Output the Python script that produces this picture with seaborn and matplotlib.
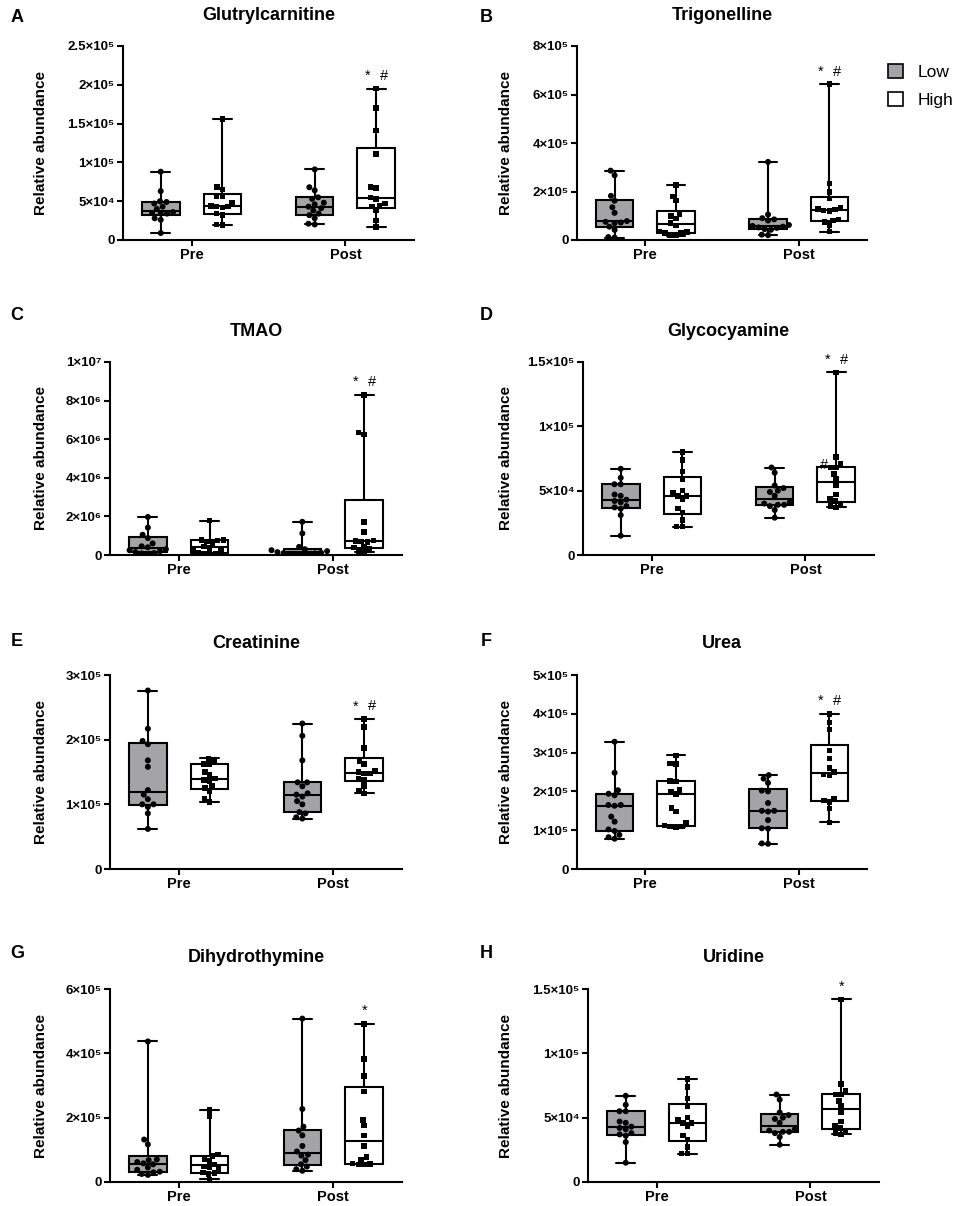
import numpy as np
import pandas as pd
import matplotlib
matplotlib.use("Agg")
import matplotlib.pyplot as plt
import seaborn as sns
from matplotlib.patches import Patch

times = ["Pre", "Post"]
groups = ["Low", "High"]
gray = "#a3a3a8"

# values, order: pre low, pre high, post low, post high
# A  Glutrylcarnitine (x1e3)
glut_pre_low = [9, 26, 28, 34, 34, 35, 36, 40, 43, 47, 49, 50, 63, 88]
glut_pre_high = [19, 20, 32, 34, 42, 43, 43, 44, 48, 56, 57, 65, 68, 156]
glut_post_low = [20, 21, 28, 32, 34, 38, 41, 43, 46, 48, 53, 55, 64, 68, 91]
glut_post_high = [17, 25, 38, 43, 44, 47, 53, 55, 67, 68, 111, 141, 170, 195]

# B  Trigonelline (x1e5)
trig_pre_low = [0.10, 0.12, 0.42, 0.55, 0.70, 0.72, 0.75, 0.78, 1.12, 1.35, 1.62, 1.82, 2.67, 2.86]
trig_pre_high = [0.18, 0.20, 0.28, 0.30, 0.32, 0.35, 0.60, 0.70, 0.88, 1.00, 1.06, 1.62, 1.80, 2.26]
trig_post_low = [0.20, 0.22, 0.42, 0.45, 0.50, 0.52, 0.55, 0.58, 0.62, 0.80, 0.85, 0.90, 1.05, 3.22]
trig_post_high = [0.35, 0.62, 0.75, 0.80, 0.85, 1.20, 1.22, 1.26, 1.28, 1.32, 1.72, 1.97, 2.33, 6.43]

# C  TMAO (x1e6)
tmao_pre_low = [0.05, 0.08, 0.10, 0.15, 0.20, 0.25, 0.30, 0.40, 0.45, 0.60, 0.88, 1.05, 1.42, 1.97]
tmao_pre_high = [0.05, 0.06, 0.08, 0.10, 0.20, 0.25, 0.35, 0.45, 0.60, 0.70, 0.75, 0.78, 0.78, 1.78]
tmao_post_low = [0.02, 0.03, 0.05, 0.06, 0.08, 0.10, 0.12, 0.15, 0.20, 0.25, 0.30, 0.42, 1.12, 1.72]
tmao_post_high = [0.15, 0.20, 0.30, 0.40, 0.45, 0.68, 0.70, 0.72, 0.75, 1.20, 1.72, 6.25, 6.35, 8.30]

# D  Glycocyamine (x1e4)
glyc_pre_low = [1.5, 3.1, 3.6, 3.7, 3.8, 4.1, 4.2, 4.3, 4.6, 4.7, 5.5, 5.5, 6.0, 6.7]
glyc_pre_high = [2.2, 2.2, 2.7, 3.3, 3.6, 4.3, 4.6, 4.6, 4.8, 5.0, 5.9, 6.5, 7.4, 8.0]
glyc_post_low = [2.9, 3.5, 3.8, 3.9, 3.9, 4.0, 4.1, 4.6, 4.9, 5.0, 5.2, 5.4, 6.4, 6.8]
glyc_post_high = [3.7, 3.8, 4.0, 4.2, 4.4, 4.7, 5.4, 5.9, 6.3, 6.8, 6.8, 7.1, 7.6, 14.2]

# E  Creatinine (x1e5)
crea_pre_low = [0.62, 0.86, 0.96, 1.00, 1.00, 1.08, 1.15, 1.22, 1.58, 1.68, 1.93, 1.98, 2.17, 2.76]
crea_pre_high = [1.04, 1.08, 1.20, 1.25, 1.28, 1.36, 1.38, 1.40, 1.45, 1.50, 1.62, 1.62, 1.68, 1.71]
crea_post_low = [0.78, 0.80, 0.86, 0.88, 1.00, 1.05, 1.12, 1.15, 1.17, 1.28, 1.34, 1.34, 1.68, 2.06, 2.25]
crea_post_high = [1.17, 1.21, 1.28, 1.38, 1.40, 1.48, 1.48, 1.50, 1.52, 1.62, 1.67, 1.87, 2.20, 2.32]

# F  Urea (x1e5)
urea_pre_low = [0.78, 0.82, 0.88, 0.98, 1.02, 1.22, 1.35, 1.63, 1.65, 1.65, 1.90, 1.94, 2.03, 2.48, 3.28]
urea_pre_high = [1.08, 1.10, 1.10, 1.12, 1.20, 1.48, 1.57, 1.93, 2.00, 2.04, 2.25, 2.27, 2.70, 2.72, 2.93]
urea_post_low = [0.65, 0.66, 1.04, 1.05, 1.26, 1.48, 1.50, 1.50, 1.70, 2.00, 2.02, 2.22, 2.33, 2.42]
urea_post_high = [1.20, 1.56, 1.72, 1.76, 1.80, 2.42, 2.44, 2.50, 2.60, 2.85, 3.05, 3.60, 3.78, 4.00]

# G  Dihydrothymine (x1e5)
dhth_pre_low = [0.22, 0.25, 0.30, 0.32, 0.38, 0.45, 0.55, 0.58, 0.62, 0.68, 0.70, 1.17, 1.32, 4.37]
dhth_pre_high = [0.08, 0.25, 0.28, 0.30, 0.40, 0.45, 0.48, 0.55, 0.65, 0.72, 0.80, 0.85, 2.05, 2.23]
dhth_post_low = [0.35, 0.40, 0.48, 0.55, 0.68, 0.82, 0.85, 0.95, 1.12, 1.45, 1.60, 1.72, 2.27, 5.08]
dhth_post_high = [0.55, 0.55, 0.56, 0.58, 0.70, 0.78, 1.12, 1.45, 1.75, 1.92, 2.82, 3.30, 3.82, 4.92]

# H  Uridine (x1e4)
urid_pre_low = [1.5, 3.1, 3.6, 3.7, 3.8, 4.1, 4.2, 4.3, 4.6, 4.7, 5.5, 5.5, 6.0, 6.7]
urid_pre_high = [2.2, 2.2, 2.7, 3.3, 3.6, 4.3, 4.6, 4.6, 4.8, 5.0, 5.9, 6.5, 7.4, 8.0]
urid_post_low = [2.9, 3.5, 3.8, 3.9, 3.9, 4.0, 4.1, 4.6, 4.9, 5.0, 5.2, 5.4, 6.4, 6.8]
urid_post_high = [3.7, 3.8, 4.0, 4.2, 4.4, 4.7, 5.4, 5.9, 6.3, 6.8, 6.8, 7.1, 7.6, 14.2]

ticks_a = [0, 5e4, 1e5, 1.5e5, 2e5, 2.5e5]
labels_a = ["0", "5×10⁴", "1×10⁵", "1.5×10⁵", "2×10⁵", "2.5×10⁵"]
ticks_b = [0, 2e5, 4e5, 6e5, 8e5]
labels_b = ["0", "2×10⁵", "4×10⁵", "6×10⁵", "8×10⁵"]
ticks_c = [0, 2e6, 4e6, 6e6, 8e6, 1e7]
labels_c = ["0", "2×10⁶", "4×10⁶", "6×10⁶", "8×10⁶", "1×10⁷"]
ticks_d = [0, 5e4, 1e5, 1.5e5]
labels_d = ["0", "5×10⁴", "1×10⁵", "1.5×10⁵"]
ticks_e = [0, 1e5, 2e5, 3e5]
labels_e = ["0", "1×10⁵", "2×10⁵", "3×10⁵"]
ticks_f = [0, 1e5, 2e5, 3e5, 4e5, 5e5]
labels_f = ["0", "1×10⁵", "2×10⁵", "3×10⁵", "4×10⁵", "5×10⁵"]
ticks_g = [0, 2e5, 4e5, 6e5]
labels_g = ["0", "2×10⁵", "4×10⁵", "6×10⁵"]

# letter, title, series, scale, ticks, labels, marks, axes box in px (l, r, top, bottom), ylabel x px
panels = [
    ("A", "Glutrylcarnitine", [glut_pre_low, glut_pre_high, glut_post_low, glut_post_high], 1e3,
     ticks_a, labels_a, ["*", "#"], (123, 414, 46, 240), 48),
    ("B", "Trigonelline", [trig_pre_low, trig_pre_high, trig_post_low, trig_post_high], 1e5,
     ticks_b, labels_b, ["*", "#"], (577, 867, 46, 240), 513),
    ("C", "TMAO", [tmao_pre_low, tmao_pre_high, tmao_post_low, tmao_post_high], 1e6,
     ticks_c, labels_c, ["*", "#"], (110, 402, 362, 555), 48),
    ("D", "Glycocyamine", [glyc_pre_low, glyc_pre_high, glyc_post_low, glyc_post_high], 1e4,
     ticks_d, labels_d, ["*", "#"], (583, 874, 362, 555), 513),
    ("E", "Creatinine", [crea_pre_low, crea_pre_high, crea_post_low, crea_post_high], 1e5,
     ticks_e, labels_e, ["*", "#"], (110, 402, 675, 869), 48),
    ("F", "Urea", [urea_pre_low, urea_pre_high, urea_post_low, urea_post_high], 1e5,
     ticks_f, labels_f, ["*", "#"], (577, 867, 675, 869), 513),
    ("G", "Dihydrothymine", [dhth_pre_low, dhth_pre_high, dhth_post_low, dhth_post_high], 1e5,
     ticks_g, labels_g, ["*"], (110, 402, 989, 1182), 48),
    ("H", "Uridine", [urid_pre_low, urid_pre_high, urid_post_low, urid_post_high], 1e4,
     ticks_d, labels_d, ["*"], (588, 879, 989, 1182), 513),
]
letter_pos = {"A": (17, 18), "B": (486, 18), "C": (17, 316), "D": (486, 316),
              "E": (17, 642), "F": (486, 642), "G": (17, 953), "H": (486, 953)}

sns.set_style("ticks")
plt.rcParams["font.family"] = ["Liberation Sans", "DejaVu Sans"]
plt.rcParams["axes.linewidth"] = 1.5
for key in ["text.color", "axes.labelcolor", "axes.edgecolor", "xtick.color", "ytick.color"]:
    plt.rcParams[key] = "black"

W, H = 957, 1206
fig = plt.figure(figsize=(W / 100, H / 100), dpi=100)

_np_percentile = np.percentile


def prism_percentile(a, q, *args, **kwargs):
    # Prism computes quartiles with the (n+1) rule
    kwargs.setdefault("method", "weibull")
    return _np_percentile(a, q, *args, **kwargs)


for letter, title, series, scale, ticks, labels, marks, box, ylab_x in panels:
    l, r, t, b = box
    ax = fig.add_axes([l / W, 1 - b / H, (r - l) / W, (b - t) / H])

    rows = []
    for (tm, g), vals in zip([("Pre", "Low"), ("Pre", "High"), ("Post", "Low"), ("Post", "High")], series):
        for v in vals:
            rows.append({"time": tm, "group": g, "value": v * scale})
    df = pd.DataFrame(rows)

    np.percentile = prism_percentile
    sns.boxplot(data=df, x="time", y="value", hue="group", order=times, hue_order=groups,
                palette={"Low": gray, "High": "white"}, whis=(0, 100), width=0.8, gap=0.39,
                linewidth=1.5, linecolor="black", showfliers=False, legend=False, ax=ax)
    np.percentile = _np_percentile

    for g, m, s in [("Low", "o", 4.3), ("High", "s", 4.0)]:
        sns.swarmplot(data=df[df["group"] == g], x="time", y="value", hue="group",
                      order=times, hue_order=groups, palette={"Low": "black", "High": "black"},
                      dodge=True, marker=m, size=s, legend=False, ax=ax, zorder=3, warn_thresh=1)

    ax.set_xlim(-0.445, 1.445)
    ax.set_ylim(0, ticks[-1])
    ax.set_yticks(ticks)
    ax.set_yticklabels(labels, fontsize=9.5, fontweight="bold")
    ax.set_xticks([0, 1])
    ax.set_xticklabels(times, fontsize=10.5, fontweight="bold")
    ax.tick_params(width=1.5, length=4, pad=2)
    ax.set_xlabel("")
    ax.set_ylabel("Relative abundance", fontsize=11, fontweight="bold")
    ax.yaxis.set_label_coords((ylab_x - l) / (r - l), 0.5)
    sns.despine(ax=ax)

    ax.text(0.5, 1 + 31 / (b - t), title, transform=ax.transAxes, ha="center", va="center",
            fontsize=13, fontweight="bold")

    top = max(series[3]) * scale
    if len(marks) == 2:
        ax.annotate("*", (1.2 - 0.055, top), xytext=(0, 4), textcoords="offset points",
                    ha="center", va="bottom", fontsize=10.5)
        ax.annotate("#", (1.2 + 0.05, top), xytext=(0, 4), textcoords="offset points",
                    ha="center", va="bottom", fontsize=10.5)
    else:
        ax.annotate("*", (1.2, top), xytext=(0, 4), textcoords="offset points",
                    ha="center", va="bottom", fontsize=10.5)
    if letter == "D":
        # stray symbol sitting on the post/high box in the original
        ax.text(1.2 - 0.08, 7.0e4, "#", ha="center", va="center", fontsize=10.5)

    lx, ly = letter_pos[letter]
    fig.text(lx / W, 1 - ly / H, letter, ha="center", va="center", fontsize=13, fontweight="bold")

handles = [Patch(facecolor=gray, edgecolor="black", linewidth=1.2),
           Patch(facecolor="white", edgecolor="black", linewidth=1.2)]
fig.legend(handles, groups, loc="upper left", bbox_to_anchor=(872 / W, 1 - 48 / H),
           frameon=False, fontsize=12.5, handlelength=0.9, handleheight=0.9,
           handletextpad=0.8, labelspacing=0.7)

fig.savefig("out.png", dpi=100)
